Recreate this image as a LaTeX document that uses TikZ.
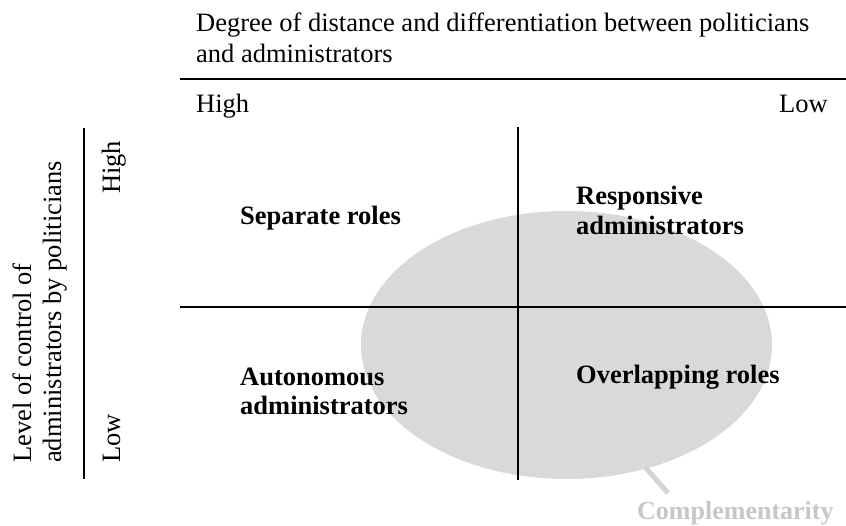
\documentclass[tikz,border=0pt]{standalone}
\usepackage{fontspec}
\setmainfont{Liberation Serif}
\usetikzlibrary{shapes.geometric}
\begin{document}
\begin{tikzpicture}[x=1pt,y=-1pt,
  txt/.style={inner sep=0pt,font=\fontsize{26.5}{30}\selectfont,text=black},
  cell/.style={txt,font=\fontsize{26.5}{30}\selectfont\bfseries,align=left},
  rule/.style={line width=2pt,black},
  blob/.style={fill=black!15,draw=none}]
\useasboundingbox (0,0) rectangle (846,526);
% ellipse and tail
\node[blob,ellipse,minimum width=411pt,minimum height=268pt,inner sep=0pt] (ell) at (566.5,345) {};
\coordinate (tailA) at (645,467);
\coordinate (tailB) at (668,493);
\draw[line width=5pt,black!17] (tailA) -- (tailB);
\node[txt,anchor=base west,text=black!22,font=\fontsize{26}{30}\selectfont\bfseries] (comp) at (637,519) {Complementarity};
% rules
\coordinate (topL) at (180,79.5);
\coordinate (topR) at (846,79.5);
\draw[rule] (topL) -- (topR);
\coordinate (leftT) at (84,128);
\coordinate (leftB) at (84,479);
\draw[rule] (leftT) -- (leftB);
\coordinate (midT) at (517.5,127);
\coordinate (midB) at (517.5,480);
\draw[rule] (midT) -- (midB);
\coordinate (hL) at (180,307);
\coordinate (hR) at (846,307);
\draw[rule] (hL) -- (hR);
% title
\node[txt,anchor=base west] (t1) at (196,32) {Degree of distance and differentiation between politicians};
\node[txt,anchor=base west] (t2) at (196,63) {and administrators};
\node[txt,anchor=base west] (xhigh) at (196,113) {High};
\node[txt,anchor=base east] (xlow) at (828,113) {Low};
% vertical axis
\node[txt,anchor=base west,rotate=90] (v1) at (31,463) {Level of control of};
\node[txt,anchor=base west,rotate=90] (v2) at (61,463) {administrators by politicians};
\node[txt,anchor=base west,rotate=90] (yhigh) at (120,194) {High};
\node[txt,anchor=base west,rotate=90] (ylow) at (120,463) {Low};
% cells
\node[cell,anchor=base west] (sep) at (240,225) {Separate roles};
\node[cell,anchor=base west] (resp1) at (576,205) {Responsive};
\node[cell,anchor=base west] (resp2) at (576,235) {administrators};
\node[cell,anchor=base west] (auto1) at (240,385) {Autonomous};
\node[cell,anchor=base west] (auto2) at (240,414) {administrators};
\node[cell,anchor=base west] (over) at (576,384) {Overlapping roles};
\end{tikzpicture}
\end{document}
